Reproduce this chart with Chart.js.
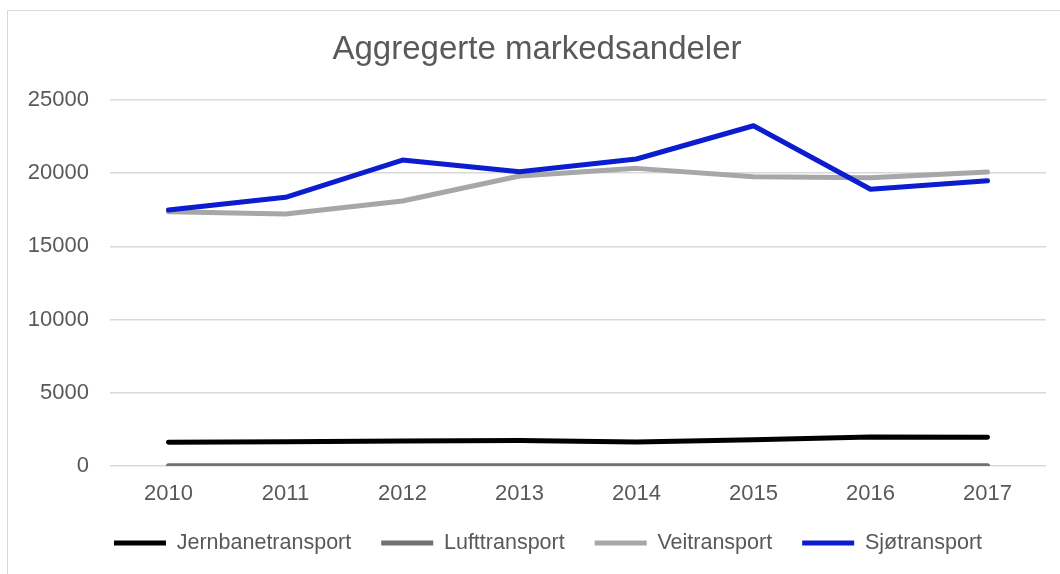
<!DOCTYPE html>
<html>
<head>
<meta charset="utf-8">
<script src="https://cdn.jsdelivr.net/npm/chart.js@4/dist/chart.umd.min.js"></script>
<style>
  html, body { margin: 0; padding: 0; background: #fff; }
  #wrap { position: relative; width: 1060px; height: 574px; overflow: hidden; }
  #frame { position: absolute; left: 7px; top: 10px; right: 0; bottom: 0;
           border-left: 1.5px solid #d9d9d9; border-top: 1.5px solid #d9d9d9; }
  canvas { position: absolute; left: 0; top: 0; }
</style>
</head>
<body>
<div id="wrap">
  <div id="frame"></div>
  <canvas id="myChart" width="1060" height="574"></canvas>
</div>
<script>
const years = ['2010', '2011', '2012', '2013', '2014', '2015', '2016', '2017'];
const jernbane = [1620, 1660, 1710, 1750, 1640, 1800, 1980, 1960];
const luft = [10, 10, 10, 10, 10, 10, 10, 10];
const vei = [17370, 17210, 18100, 19810, 20330, 19760, 19690, 20080];
const sjo = [17490, 18350, 20900, 20100, 20970, 23240, 18900, 19490];
const seriesNames = ['Jernbanetransport', 'Lufttransport', 'Veitransport', 'Sjøtransport'];
const seriesColors = ['#000000', '#6e7074', '#a5a7a9', '#0c1dcf'];

const fontFam = '"Liberation Sans", Arial, sans-serif';
const textColor = '#595959';

const lineSet = (i, values) => ({
  label: seriesNames[i],
  data: values,
  borderColor: seriesColors[i],
  backgroundColor: seriesColors[i],
  borderWidth: 5,
  borderCapStyle: 'round',
  borderJoinStyle: 'round',
  pointRadius: 0,
  pointHoverRadius: 0,
  tension: 0,
  // later series drawn on top, like the original
  order: 4 - i,
});

// nudge the legend row a little to the right
const legendShift = {
  id: 'legendShift',
  afterLayout(chart) {
    chart.legend.left += 11;
    chart.legend.right += 11;
  },
};

const ctx = document.getElementById('myChart').getContext('2d');
new Chart(ctx, {
  type: 'line',
  data: {
    labels: years,
    datasets: [
      lineSet(0, jernbane),
      lineSet(1, luft),
      lineSet(2, vei),
      lineSet(3, sjo),
    ],
  },
  plugins: [legendShift],
  options: {
    responsive: false,
    animation: false,
    layout: { padding: { left: 28, right: 14, top: 0, bottom: 10.25 } },
    plugins: {
      title: {
        display: true,
        text: 'Aggregerte markedsandeler',
        color: textColor,
        font: { family: fontFam, size: 33, weight: 'normal' },
        padding: { top: 30.5, bottom: 29.9 },
      },
      legend: {
        position: 'bottom',
        reverse: true,
        labels: {
          color: textColor,
          font: { family: fontFam, size: 21.5 },
          usePointStyle: true,
          pointStyle: 'line',
          pointStyleWidth: 52,
          boxHeight: 21.5,
          padding: 30,
        },
      },
      tooltip: { enabled: false },
    },
    scales: {
      x: {
        offset: true,
        grid: { display: false, drawTicks: false },
        border: { display: false },
        ticks: {
          color: textColor,
          padding: 18,
          font: { family: fontFam, size: 22, lineHeight: 0.9 },
        },
        afterFit(scale) {
          scale.height = 36.25;
        },
      },
      y: {
        min: 0,
        max: 25000,
        grid: { color: '#d9d9d9', lineWidth: 1.5, drawTicks: false },
        border: { display: false },
        ticks: {
          stepSize: 5000,
          color: textColor,
          padding: 21,
          font: { family: fontFam, size: 22 },
          callback: (v) => String(v),
        },
        afterFit(scale) {
          scale.width = 82;
        },
      },
    },
  },
});
</script>
</body>
</html>
